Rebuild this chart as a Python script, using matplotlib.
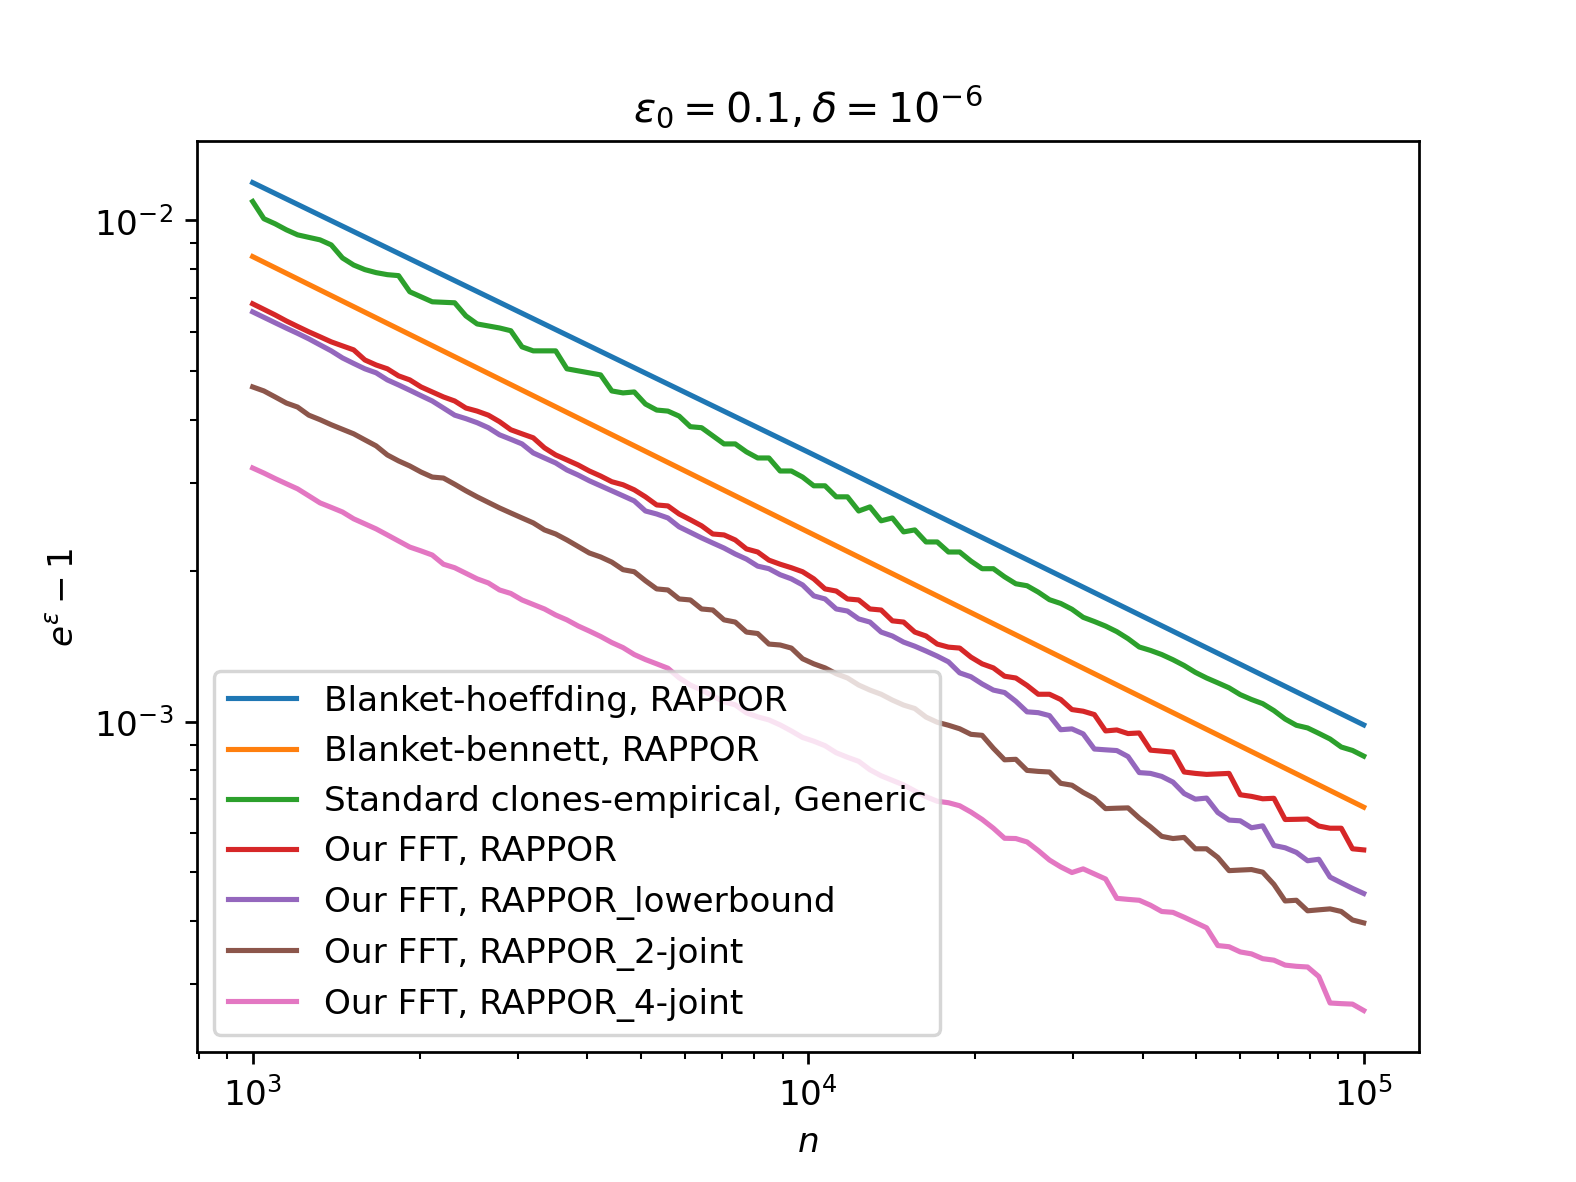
import numpy as np
import matplotlib
matplotlib.use("Agg")
import matplotlib.pyplot as plt

# x grid: 100 log-spaced sample sizes between 1e3 and 1e5
n = np.logspace(3, 5, 100)

# analytic bounds (straight lines in log-log)
n_bound = [1e3, 1e4, 1e5]
hoeffding = [1.19e-2, 3.45e-3, 9.85e-4]
bennett = [8.47e-3, 2.39e-3, 6.75e-4]

clones = [
    1.091e-2, 1.008e-2, 9.848e-3, 9.580e-3, 9.361e-3, 9.253e-3, 9.148e-3, 8.938e-3, 8.418e-3, 8.148e-3,
    7.978e-3, 7.869e-3, 7.796e-3, 7.761e-3, 7.206e-3, 7.042e-3, 6.882e-3, 6.866e-3, 6.851e-3, 6.450e-3,
    6.216e-3, 6.159e-3, 6.102e-3, 6.025e-3, 5.595e-3, 5.493e-3, 5.493e-3, 5.493e-3, 5.058e-3, 5.011e-3,
    4.965e-3, 4.919e-3, 4.569e-3, 4.528e-3, 4.548e-3, 4.302e-3, 4.185e-3, 4.165e-3, 4.070e-3, 3.877e-3,
    3.859e-3, 3.718e-3, 3.582e-3, 3.582e-3, 3.453e-3, 3.358e-3, 3.358e-3, 3.163e-3, 3.163e-3, 3.076e-3,
    2.955e-3, 2.955e-3, 2.809e-3, 2.809e-3, 2.632e-3, 2.682e-3, 2.516e-3, 2.549e-3, 2.391e-3, 2.413e-3,
    2.283e-3, 2.283e-3, 2.180e-3, 2.180e-3, 2.091e-3, 2.019e-3, 2.019e-3, 1.945e-3, 1.884e-3, 1.867e-3,
    1.813e-3, 1.751e-3, 1.721e-3, 1.676e-3, 1.615e-3, 1.584e-3, 1.551e-3, 1.512e-3, 1.464e-3, 1.409e-3,
    1.387e-3, 1.361e-3, 1.329e-3, 1.294e-3, 1.254e-3, 1.222e-3, 1.195e-3, 1.168e-3, 1.132e-3, 1.107e-3,
    1.086e-3, 1.052e-3, 1.012e-3, 9.833e-4, 9.714e-4, 9.475e-4, 9.233e-4, 8.898e-4, 8.760e-4, 8.535e-4,
]

fft_rappor = [
    6.819e-3, 6.647e-3, 6.479e-3, 6.302e-3, 6.145e-3, 5.996e-3, 5.860e-3, 5.725e-3, 5.620e-3, 5.518e-3,
    5.268e-3, 5.148e-3, 5.058e-3, 4.897e-3, 4.807e-3, 4.654e-3, 4.548e-3, 4.445e-3, 4.363e-3, 4.224e-3,
    4.165e-3, 4.088e-3, 3.967e-3, 3.823e-3, 3.752e-3, 3.684e-3, 3.518e-3, 3.405e-3, 3.328e-3, 3.252e-3,
    3.163e-3, 3.091e-3, 3.011e-3, 2.969e-3, 2.901e-3, 2.809e-3, 2.706e-3, 2.694e-3, 2.596e-3, 2.528e-3,
    2.459e-3, 2.368e-3, 2.358e-3, 2.304e-3, 2.211e-3, 2.180e-3, 2.100e-3, 2.061e-3, 2.028e-3, 1.991e-3,
    1.927e-3, 1.840e-3, 1.822e-3, 1.757e-3, 1.749e-3, 1.678e-3, 1.670e-3, 1.589e-3, 1.580e-3, 1.509e-3,
    1.482e-3, 1.428e-3, 1.408e-3, 1.402e-3, 1.345e-3, 1.304e-3, 1.280e-3, 1.232e-3, 1.222e-3, 1.181e-3,
    1.134e-3, 1.134e-3, 1.107e-3, 1.057e-3, 1.049e-3, 1.033e-3, 9.582e-4, 9.625e-4, 9.466e-4, 9.492e-4,
    8.771e-4, 8.731e-4, 8.691e-4, 7.934e-4, 7.883e-4, 7.847e-4, 7.865e-4, 7.883e-4, 7.146e-4, 7.093e-4,
    7.015e-4, 7.031e-4, 6.378e-4, 6.384e-4, 6.392e-4, 6.189e-4, 6.128e-4, 6.128e-4, 5.575e-4, 5.547e-4,
]

fft_lower = [
    6.570e-3, 6.408e-3, 6.250e-3, 6.097e-3, 5.953e-3, 5.805e-3, 5.646e-3, 5.493e-3, 5.318e-3, 5.184e-3,
    5.058e-3, 4.966e-3, 4.807e-3, 4.697e-3, 4.584e-3, 4.471e-3, 4.363e-3, 4.224e-3, 4.088e-3, 4.023e-3,
    3.949e-3, 3.859e-3, 3.735e-3, 3.659e-3, 3.582e-3, 3.437e-3, 3.358e-3, 3.282e-3, 3.178e-3, 3.105e-3,
    3.024e-3, 2.955e-3, 2.888e-3, 2.822e-3, 2.757e-3, 2.632e-3, 2.596e-3, 2.549e-3, 2.447e-3, 2.386e-3,
    2.326e-3, 2.272e-3, 2.220e-3, 2.160e-3, 2.110e-3, 2.043e-3, 2.019e-3, 1.964e-3, 1.927e-3, 1.874e-3,
    1.782e-3, 1.757e-3, 1.678e-3, 1.662e-3, 1.603e-3, 1.580e-3, 1.509e-3, 1.482e-3, 1.441e-3, 1.414e-3,
    1.383e-3, 1.351e-3, 1.316e-3, 1.251e-3, 1.229e-3, 1.189e-3, 1.156e-3, 1.143e-3, 1.098e-3, 1.046e-3,
    1.042e-3, 1.028e-3, 9.635e-4, 9.672e-4, 9.454e-4, 8.817e-4, 8.785e-4, 8.755e-4, 8.517e-4, 7.912e-4,
    7.883e-4, 7.775e-4, 7.575e-4, 7.186e-4, 7.003e-4, 7.038e-4, 6.586e-4, 6.361e-4, 6.340e-4, 6.141e-4,
    6.195e-4, 5.661e-4, 5.601e-4, 5.484e-4, 5.277e-4, 5.313e-4, 4.895e-4, 4.769e-4, 4.648e-4, 4.540e-4,
]

fft_2joint = [
    4.654e-3, 4.569e-3, 4.445e-3, 4.322e-3, 4.243e-3, 4.088e-3, 4.004e-3, 3.912e-3, 3.831e-3, 3.752e-3,
    3.649e-3, 3.550e-3, 3.405e-3, 3.313e-3, 3.237e-3, 3.148e-3, 3.076e-3, 3.062e-3, 2.976e-3, 2.888e-3,
    2.809e-3, 2.738e-3, 2.669e-3, 2.608e-3, 2.549e-3, 2.492e-3, 2.413e-3, 2.368e-3, 2.304e-3, 2.236e-3,
    2.170e-3, 2.131e-3, 2.081e-3, 2.010e-3, 1.991e-3, 1.910e-3, 1.840e-3, 1.831e-3, 1.757e-3, 1.749e-3,
    1.678e-3, 1.670e-3, 1.596e-3, 1.580e-3, 1.509e-3, 1.499e-3, 1.428e-3, 1.422e-3, 1.402e-3, 1.335e-3,
    1.304e-3, 1.280e-3, 1.246e-3, 1.222e-3, 1.183e-3, 1.156e-3, 1.134e-3, 1.104e-3, 1.079e-3, 1.062e-3,
    1.021e-3, 9.971e-4, 9.835e-4, 9.677e-4, 9.433e-4, 9.390e-4, 8.848e-4, 8.391e-4, 8.410e-4, 7.993e-4,
    7.956e-4, 7.934e-4, 7.532e-4, 7.467e-4, 7.222e-4, 7.026e-4, 6.705e-4, 6.718e-4, 6.728e-4, 6.420e-4,
    6.167e-4, 5.903e-4, 5.844e-4, 5.874e-4, 5.575e-4, 5.575e-4, 5.358e-4, 5.043e-4, 5.056e-4, 5.068e-4,
    5.008e-4, 4.734e-4, 4.387e-4, 4.401e-4, 4.193e-4, 4.212e-4, 4.230e-4, 4.180e-4, 4.020e-4, 3.967e-4,
]

fft_4joint = [
    3.207e-3, 3.133e-3, 3.055e-3, 2.983e-3, 2.914e-3, 2.822e-3, 2.732e-3, 2.676e-3, 2.620e-3, 2.539e-3,
    2.481e-3, 2.424e-3, 2.358e-3, 2.293e-3, 2.230e-3, 2.191e-3, 2.150e-3, 2.061e-3, 2.028e-3, 1.977e-3,
    1.927e-3, 1.891e-3, 1.831e-3, 1.802e-3, 1.749e-3, 1.713e-3, 1.678e-3, 1.632e-3, 1.596e-3, 1.552e-3,
    1.516e-3, 1.479e-3, 1.438e-3, 1.405e-3, 1.361e-3, 1.330e-3, 1.304e-3, 1.278e-3, 1.223e-3, 1.183e-3,
    1.156e-3, 1.125e-3, 1.096e-3, 1.080e-3, 1.041e-3, 1.022e-3, 1.008e-3, 9.850e-4, 9.580e-4, 9.297e-4,
    9.140e-4, 8.953e-4, 8.667e-4, 8.489e-4, 8.332e-4, 8.016e-4, 7.797e-4, 7.635e-4, 7.477e-4, 7.273e-4,
    7.082e-4, 6.936e-4, 6.889e-4, 6.794e-4, 6.600e-4, 6.380e-4, 6.128e-4, 5.851e-4, 5.844e-4, 5.753e-4,
    5.530e-4, 5.294e-4, 5.130e-4, 4.999e-4, 5.084e-4, 4.967e-4, 4.853e-4, 4.440e-4, 4.419e-4, 4.401e-4,
    4.302e-4, 4.180e-4, 4.163e-4, 4.071e-4, 3.974e-4, 3.878e-4, 3.574e-4, 3.555e-4, 3.471e-4, 3.440e-4,
    3.365e-4, 3.342e-4, 3.267e-4, 3.249e-4, 3.239e-4, 3.100e-4, 2.745e-4, 2.737e-4, 2.731e-4, 2.652e-4,
]

labels = [
    "Blanket-hoeffding, RAPPOR",
    "Blanket-bennett, RAPPOR",
    "Standard clones-empirical, Generic",
    "Our FFT, RAPPOR",
    "Our FFT, RAPPOR_lowerbound",
    "Our FFT, RAPPOR_2-joint",
    "Our FFT, RAPPOR_4-joint",
]

fig = plt.figure(figsize=(6.4, 4.8), dpi=246.4)
ax = fig.add_subplot(111)

ax.plot(n_bound, hoeffding, label=labels[0])
ax.plot(n_bound, bennett, label=labels[1])
ax.plot(n, clones, label=labels[2])
ax.plot(n, fft_rappor, label=labels[3])
ax.plot(n, fft_lower, label=labels[4])
ax.plot(n, fft_2joint, label=labels[5])
ax.plot(n, fft_4joint, label=labels[6])

ax.set_xscale("log")
ax.set_yscale("log")
ax.set_title(r"$\varepsilon_0 = 0.1, \delta = 10^{-6}$")
ax.set_xlabel(r"$n$")
ax.set_ylabel(r"$e^{\varepsilon} - 1$")
ax.legend(loc="lower left")

fig.savefig("out.png", dpi=246.4)
